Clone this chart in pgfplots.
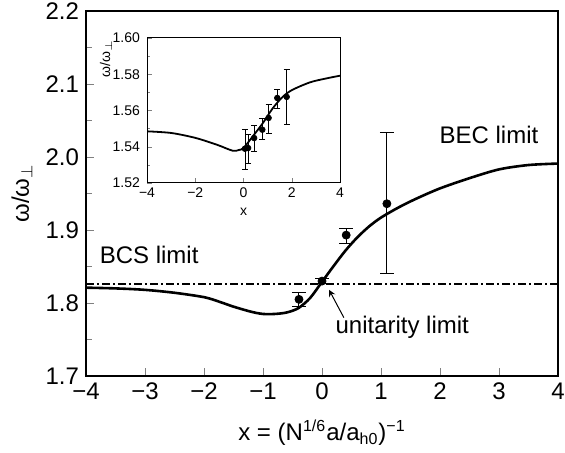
\documentclass[border=0pt]{standalone}
\usepackage{fontspec}
\setmainfont{Liberation Sans}
\usepackage{pgfplots}
\pgfplotsset{compat=1.18}
\begin{document}
\begin{tikzpicture}
\begin{axis}[
  at={(0pt,0pt)}, anchor=south west, scale only axis,
  width=236pt, height=182.5pt,
  xmin=-4, xmax=4, ymin=1.7, ymax=2.2,
  xtick={-4,-3,-2,-1,0,1,2,3,4},
  xticklabels={−4,−3,−2,−1,0,1,2,3,4},
  ytick={1.7,1.8,1.9,2.0,2.1,2.2},
  yticklabels={1.7,1.8,1.9,2.0,2.1,2.2},
  minor y tick num=1,
  tick align=inside, tick pos=left,
  major tick length=4pt, minor tick length=3pt,
  tick label style={font=\fontsize{12}{14}\selectfont},
  xlabel={x = (N\textsuperscript{1/6}a/a\textsubscript{h0})\textsuperscript{−1}},
  ylabel={ω/ω\textsubscript{$\perp$}},
  label style={font=\fontsize{12}{14}\selectfont},
  xlabel style={at={(axis description cs:0.5,0)}, anchor=center, yshift=-28.5pt},
  ylabel style={at={(axis description cs:0,0.5)}, anchor=center, yshift=32pt},
  axis line style={line width=0.7pt},
  clip=false,
]
\addplot[black, line width=0.6pt, dash pattern=on 4pt off 1.5pt on 1pt off 1.5pt] coordinates {(-4,1.826) (4,1.826)};
\addplot[black, line width=1.3pt, smooth] coordinates {
(-4,1.821) (-3.5,1.820) (-3,1.818) (-2.5,1.814) (-2,1.808) (-1.75,1.802) (-1.5,1.795)
(-1.2,1.788) (-1,1.785) (-0.8,1.785) (-0.6,1.787) (-0.4,1.793) (-0.2,1.807)
(0,1.829) (0.2,1.851) (0.4,1.872) (0.6,1.890) (0.8,1.905) (1.0,1.917)
(1.3,1.931) (1.6,1.943) (2.0,1.957) (2.5,1.971) (3.0,1.983) (3.5,1.989) (4,1.991)};
\addplot[black, only marks, mark=*, mark size=2pt,
  error bars/.cd, y dir=both, y explicit,
  error bar style={line width=0.5pt}, error mark options={rotate=90, mark size=3.5pt, line width=0.5pt}]
coordinates {
(-0.39,1.805) += (0,0.009) -= (0,0.010)
(0,1.830) += (0,0.003) -= (0,0.003)
(0.41,1.893) += (0,0.009) -= (0,0.012)
(1.10,1.936) += (0,0.097) -= (0,0.096)
};
\node[font=\fontsize{12}{14}\selectfont] at (axis cs:2.83,2.03) {BEC limit};
\node[font=\fontsize{12}{14}\selectfont] at (axis cs:-2.93,1.866) {BCS limit};
\node[font=\fontsize{12}{14}\selectfont] at (axis cs:1.36,1.767) {unitarity limit};
\draw[-stealth, line width=0.5pt] (axis cs:0.37,1.780) -- (axis cs:0.12,1.818);
\end{axis}
\begin{axis}[
  at={(30.5pt,96.5pt)}, anchor=south west, scale only axis,
  width=96.5pt, height=72.5pt,
  xmin=-4, xmax=4, ymin=1.52, ymax=1.60,
  xtick={-4,-2,0,2,4},
  xticklabels={−4,−2,0,2,4},
  ytick={1.52,1.54,1.56,1.58,1.60},
  yticklabels={1.52,1.54,1.56,1.58,1.60},
  minor y tick num=1,
  tick align=inside, tick pos=left,
  major tick length=2.5pt, minor tick length=1.5pt,
  tick label style={font=\fontsize{7}{8}\selectfont},
  xticklabel style={yshift=1pt},
  xlabel={x}, ylabel={ω/ω\textsubscript{$\perp$}},
  label style={font=\fontsize{7}{8}\selectfont},
  xlabel style={at={(axis description cs:0.5,0)}, anchor=center, yshift=-14.5pt},
  ylabel style={at={(axis description cs:0,0.86)}, anchor=center, yshift=20.5pt},
  axis background/.style={fill=white},
  axis line style={line width=0.5pt},
]
\addplot[black, line width=0.9pt, smooth] coordinates {
(-4,1.5485) (-3,1.5476) (-2,1.5449) (-1.1,1.5411) (-0.45,1.5378) (-0.2,1.5382)
(0,1.5393) (0.4,1.5460) (0.8,1.5530) (1.2,1.5610) (1.6,1.5672) (2.0,1.5712)
(2.75,1.5755) (3.4,1.5776) (4,1.5792)};
\addplot[black, only marks, mark=*, mark size=1.4pt,
  error bars/.cd, y dir=both, y explicit,
  error bar style={line width=0.4pt}, error mark options={rotate=90, mark size=1.5pt, line width=0.4pt}]
coordinates {
(0.06,1.5389) += (0,0.0105) -= (0,0.0115)
(0.19,1.5393) += (0,0.0074) -= (0,0.0083)
(0.44,1.5448) += (0,0.0068) -= (0,0.0073)
(0.78,1.5494) += (0,0.0065) -= (0,0.0055)
(1.04,1.5559) += (0,0.0073) -= (0,0.0083)
(1.40,1.5669) += (0,0.0046) -= (0,0.0055)
(1.79,1.5675) += (0,0.0150) -= (0,0.0153)
};
\end{axis}
\pgfresetboundingbox
\path (-43pt,-38.5pt) rectangle (239.5pt,188pt);
\end{tikzpicture}
\end{document}
